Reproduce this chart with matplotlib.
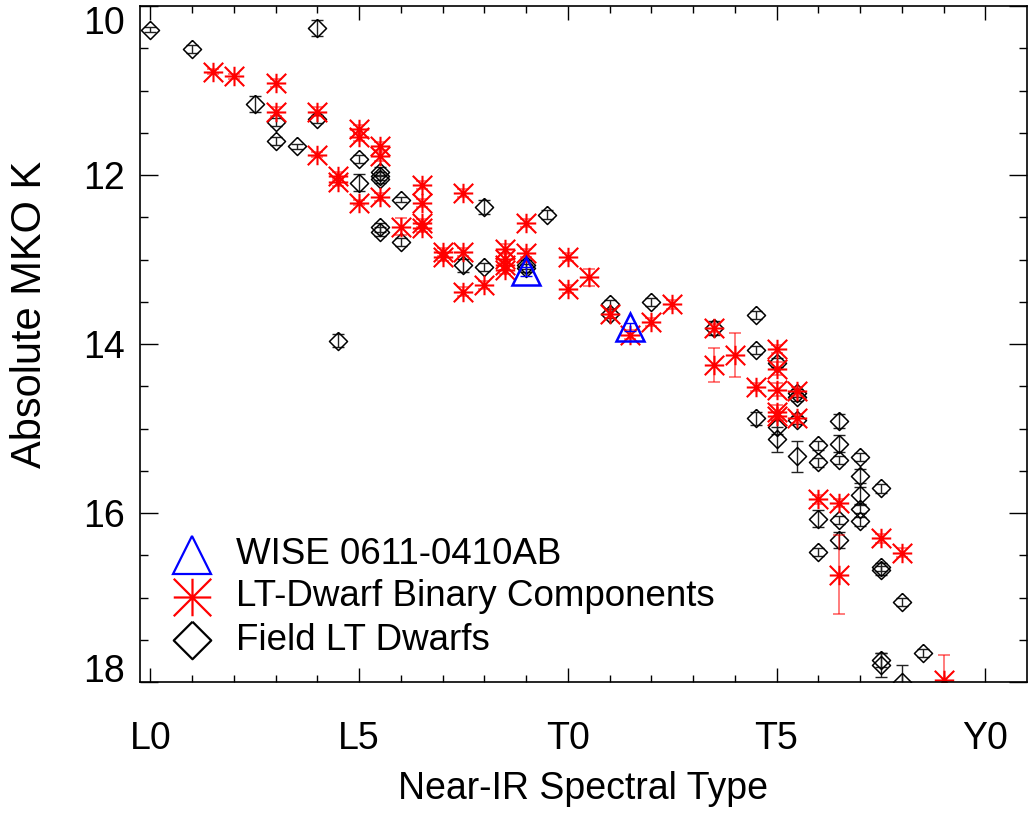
import matplotlib
matplotlib.use("Agg")
import matplotlib.pyplot as plt
import numpy as np
from matplotlib.path import Path

plt.rcParams['font.family'] = ['Liberation Sans', 'DejaVu Sans']

# spectral type index: 0 = L0, 10 = T0, 20 = Y0
field_spt = [0, 1, 4, 2.5, 3, 3, 3.5, 4, 5, 5, 5.5, 5.5, 5.5, 6, 5.5, 5.5, 6, 8, 9.5, 7.5,
             8, 9, 9, 11, 11, 12, 4.5, 13.5, 14.5, 14.5, 14.5, 15, 15, 15, 15.5, 15.5, 15.5, 15.5,
             16, 16, 16, 16, 16.5, 16.5, 16.5, 16.5, 16.5, 17, 17, 17, 17, 17,
             17.5, 17.5, 17.5, 17.5, 17.5, 18, 18, 18.5]
field_mk = [10.28, 10.51, 10.26, 11.16, 11.37, 11.60, 11.66, 11.34, 11.81, 12.09, 11.96, 12.01,
            12.05, 12.29, 12.62, 12.67, 12.79, 12.38, 12.47, 13.07, 13.09, 13.06, 13.10, 13.53,
            13.64, 13.50, 13.96, 13.81, 13.66, 14.07, 14.88, 14.22, 14.98, 15.13, 14.58, 14.63,
            14.90, 15.33, 15.20, 15.40, 16.07, 16.46, 14.91, 15.18, 15.37, 16.08, 16.32, 15.34,
            15.56, 15.79, 15.95, 16.10, 15.71, 16.64, 16.68, 17.74, 17.80, 17.05, 18.00, 17.66]
field_err = [0.03, 0.05, 0.10, 0.10, 0.05, 0.05, 0.03, 0.05, 0.05, 0.10, 0.05, 0.05, 0.05, 0.03,
             0.05, 0.05, 0.05, 0.08, 0.05, 0.08, 0.05, 0.05, 0.05, 0.05, 0.05, 0.05, 0.08, 0.08,
             0.05, 0.05, 0.08, 0.05, 0.08, 0.15, 0.05, 0.05, 0.05, 0.18, 0.05, 0.05, 0.10, 0.05,
             0.08, 0.10, 0.05, 0.05, 0.10, 0.05, 0.08, 0.10, 0.05, 0.05, 0.05, 0.05, 0.05, 0.08,
             0.14, 0.05, 0.20, 0.05]

binary_spt = [1.5, 2, 3, 3, 4, 4, 4.5, 4.5, 5, 5, 5, 5.5, 5.5, 5.5, 6, 6.5, 6.5, 6.5, 6.5,
              7, 7, 7.5, 7.5, 7.5, 8, 8.5, 8.5, 8.5, 8.5, 9, 9, 10, 10, 10.5, 11, 11.5, 12,
              12.5, 13.5, 13.5, 14, 14.5, 15, 15, 15, 15, 15, 15.5, 15.5, 16, 16.5, 16.5,
              17.5, 18, 19]
binary_mk = [10.78, 10.83, 10.91, 11.25, 11.25, 11.76, 12.01, 12.08, 11.46, 11.55, 12.33,
             11.66, 11.78, 12.26, 12.61, 12.12, 12.33, 12.57, 12.63, 12.91, 12.97, 12.21,
             12.91, 13.38, 13.30, 12.87, 12.99, 13.07, 13.12, 12.57, 12.92, 12.97, 13.35,
             13.21, 13.64, 13.89, 13.74, 13.53, 13.81, 14.25, 14.13, 14.51, 14.06, 14.29,
             14.54, 14.80, 14.85, 14.56, 14.88, 15.84, 15.88, 16.73, 16.30, 16.47, 17.98]
binary_err = [0.03, 0.03, 0.05, 0.05, 0.05, 0.03, 0.05, 0.05, 0.05, 0.05, 0.03, 0.05, 0.05,
              0.05, 0.10, 0.05, 0.05, 0.05, 0.05, 0.05, 0.05, 0.05, 0.05, 0.05, 0.05, 0.05,
              0.05, 0.05, 0.05, 0.05, 0.05, 0.05, 0.05, 0.10, 0.05, 0.05, 0.05, 0.05, 0.05,
              0.20, 0.26, 0.05, 0.05, 0.08, 0.08, 0.08, 0.05, 0.05, 0.05, 0.05, 0.05, 0.47,
              0.05, 0.05, 0.30]

wise_spt = [9.0, 11.5]
wise_mk = [13.14, 13.80]
wise_err = [0.05, 0.05]

tick_pos = [0, 5, 10, 15, 20]
tick_labels = ['L0', 'L5', 'T0', 'T5', 'Y0']

legend_labels = ['WISE 0611-0410AB', 'LT-Dwarf Binary Components', 'Field LT Dwarfs']

# open markers like the IDL symbols
diamond = [(0, 1), (1, 0), (0, -1), (-1, 0), (0, 1)]
star_verts = [(-1, 0), (1, 0), (0, -1), (0, 1), (-1, -1), (1, 1), (-1, 1), (1, -1)]
star_codes = [Path.MOVETO, Path.LINETO] * 4
asterisk = Path(star_verts, star_codes)

fig = plt.figure(figsize=(10.29, 8.19), dpi=100)
ax = fig.add_axes([140 / 1029, 137 / 819, 887 / 1029, 676 / 819])

ax.errorbar(field_spt, field_mk, yerr=field_err, fmt='none', ecolor='#222222',
            elinewidth=1, capsize=4, capthick=1)
ax.plot(field_spt, field_mk, ls='none', marker=diamond, ms=13, mfc='none',
        mec='black', mew=1.1)

ax.errorbar(binary_spt, binary_mk, yerr=binary_err, fmt='none', ecolor=(1, 0, 0, 0.6),
            elinewidth=1.2, capsize=4, capthick=1.2)
ax.plot(binary_spt, binary_mk, ls='none', marker=asterisk, ms=14, mfc='none',
        mec='red', mew=1.5)

ax.errorbar(wise_spt, wise_mk, yerr=wise_err, fmt='none', ecolor='blue',
            elinewidth=1, capsize=4, capthick=1)
ax.plot(wise_spt, wise_mk, ls='none', marker='^', ms=20, mfc='none',
        mec='blue', mew=1.8)

ax.set_xlim(-0.25, 21)
ax.set_ylim(18, 10)

ax.set_xticks(tick_pos)
ax.set_xticklabels(tick_labels)
ax.set_xticks(np.arange(0, 21, 1), minor=True)
ax.set_yticks([10, 12, 14, 16, 18])
ax.set_yticks(np.arange(10, 18.01, 0.5), minor=True)

ax.tick_params(which='both', direction='in', top=True, right=True, width=1, labelsize=27)
ax.xaxis.set_tick_params(which='major', length=10, pad=28)
ax.xaxis.set_tick_params(which='minor', length=5)
ax.yaxis.set_tick_params(which='major', length=13, pad=11)
ax.yaxis.set_tick_params(which='minor', length=6)
for s in ax.spines.values():
    s.set_linewidth(1.2)

ylabs = ax.get_yticklabels()
ylabs[0].set_va('top')
ylabs[-1].set_va('baseline')

ax.set_xlabel('Near-IR Spectral Type', fontsize=27)
ax.xaxis.set_label_coords(0.5, -0.132)
ax.set_ylabel('Absolute MKO K', fontsize=30)
ax.yaxis.set_label_coords(-0.101, 0.543)

# legend, drawn by hand to match the big IDL symbols
leg_markers = [('^', 'blue'), (asterisk, 'red'), (diamond, 'black')]
leg_y = [0.188, 0.126, 0.062]
for (mk, col), yy, lab in zip(leg_markers, leg_y, legend_labels):
    ax.plot([0.0586], [yy], transform=ax.transAxes, ls='none', marker=mk, ms=27,
            mfc='none', mec=col, mew=1.6, clip_on=False)
    ax.text(0.1082, yy, lab, transform=ax.transAxes, fontsize=26.5, va='center', ha='left')

fig.savefig('out.png', dpi=100)
